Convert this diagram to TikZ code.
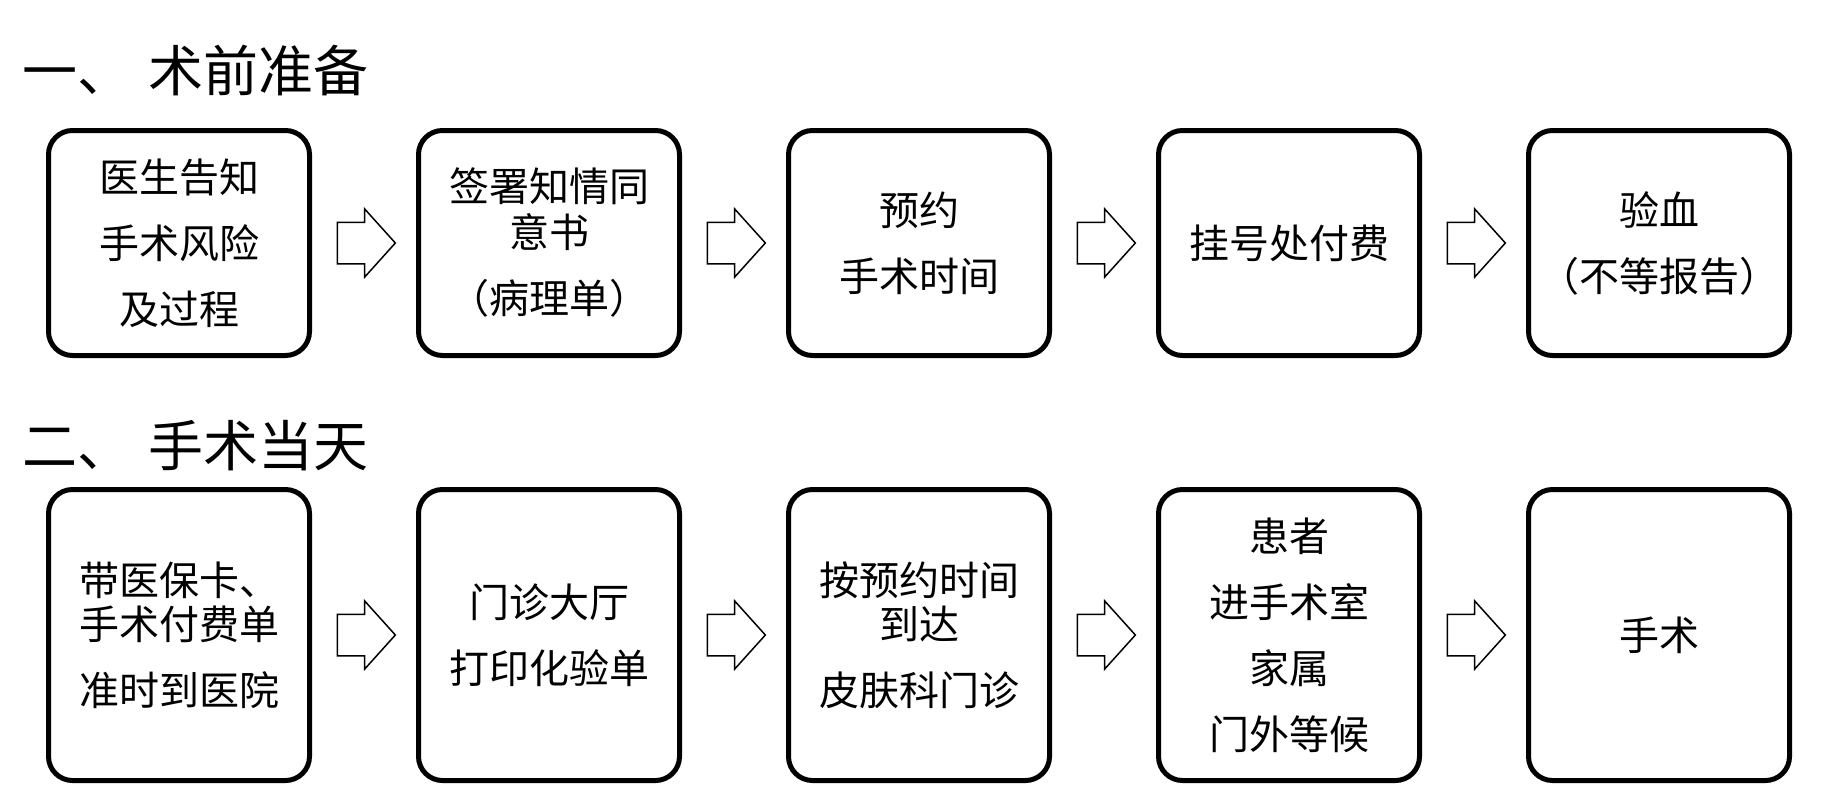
\documentclass[tikz,border=0pt]{standalone}
\usepackage{fontspec}
\setmainfont{Noto Sans CJK SC}
\usetikzlibrary{shapes.arrows}
\begin{document}
\begin{tikzpicture}[x=1pt,y=-1pt,
  stepbox/.style={draw, line width=5pt, rounded corners=24pt, minimum width=261pt,
    align=center, inner sep=0pt, font=\fontsize{40}{66}\selectfont},
  rowa/.style={stepbox, minimum height=225pt},
  rowb/.style={stepbox, minimum height=291pt},
  blockarrow/.style={draw, line width=1.5pt, single arrow, single arrow head extend=13.5pt,
    single arrow tip angle=96, minimum height=58pt, inner xsep=0pt, inner ysep=20pt},
  heading/.style={anchor=west, font=\fontsize{55}{60}\selectfont, inner sep=0pt},
]
\useasboundingbox[fill=white] (0,0) rectangle (1828,807);

\node[heading] (h1) at (22,70) {一、\hspace{16pt}术前准备};
\node[heading] (h2) at (22,446) {二、\hspace{16pt}手术当天};

\node[rowa] (a1) at (179,243) {医生告知\\手术风险\\及过程};
\node[rowa] (a2) at (549,243) {签署知情同\\[-20pt]意书\\（病理单）};
\node[rowa] (a3) at (919,243) {预约\\手术时间};
\node[rowa] (a4) at (1289,243) {挂号处付费};
\node[rowa] (a5) at (1659,243) {验血\\（不等报告）};

\node[rowb] (b1) at (179,635) {带医保卡、\\[-22pt]手术付费单\\准时到医院};
\node[rowb] (b2) at (549,635) {门诊大厅\\打印化验单};
\node[rowb] (b3) at (919,635) {按预约时间\\[-22pt]到达\\皮肤科门诊};
\node[rowb] (b4) at (1289,635) {患者\\进手术室\\家属\\门外等候};
\node[rowb] (b5) at (1659,635) {手术};

\foreach \p/\q in {a1/a2,a2/a3,a3/a4,a4/a5,b1/b2,b2/b3,b3/b4,b4/b5}
  \path (\p) -- (\q) node[midway, xshift=-7pt, blockarrow] (arr-\p) {};
\end{tikzpicture}
\end{document}
